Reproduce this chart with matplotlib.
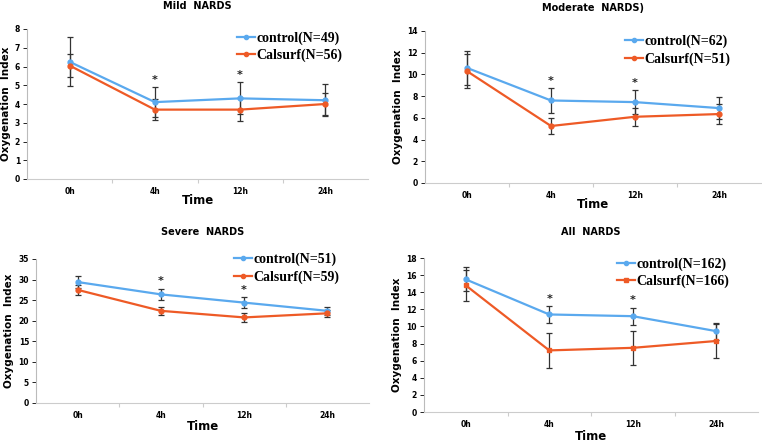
import numpy as np
import matplotlib.pyplot as plt
from matplotlib.lines import Line2D

times = ['0h', '4h', '12h', '24h']

titles = ['Mild  NARDS', 'Moderate  NARDS)', 'Severe  NARDS', 'All  NARDS']
n_control = [49, 62, 51, 162]
n_calsurf = [56, 51, 59, 166]

mild_control = [6.25, 4.1, 4.3, 4.2]
mild_control_err = [1.3, 0.8, 0.85, 0.85]
mild_calsurf = [6.05, 3.7, 3.7, 4.0]
mild_calsurf_err = [0.6, 0.55, 0.6, 0.6]

moderate_control = [10.6, 7.6, 7.45, 6.9]
moderate_control_err = [1.6, 1.15, 1.1, 1.0]
moderate_calsurf = [10.3, 5.25, 6.1, 6.35]
moderate_calsurf_err = [1.55, 0.75, 0.85, 0.9]

severe_control = [29.4, 26.4, 24.4, 22.4]
severe_control_err = [1.5, 1.4, 1.3, 1.0]
severe_calsurf = [27.5, 22.4, 20.8, 21.8]
severe_calsurf_err = [1.3, 1.0, 1.0, 0.9]

all_control = [15.5, 11.4, 11.2, 9.45]
all_control_err = [1.4, 1.0, 1.0, 1.0]
all_calsurf = [14.8, 7.2, 7.5, 8.3]
all_calsurf_err = [1.85, 2.0, 2.0, 2.0]

ymax = [8, 14, 35, 18]
ystep = [1, 2, 5, 2]
star_at = [1, 2]

panels = [
    (mild_control, mild_control_err, mild_calsurf, mild_calsurf_err),
    (moderate_control, moderate_control_err, moderate_calsurf, moderate_calsurf_err),
    (severe_control, severe_control_err, severe_calsurf, severe_calsurf_err),
    (all_control, all_control_err, all_calsurf, all_calsurf_err),
]

# axes boxes in pixels: left, right, top, bottom; then title y, xlabel y
W, H = 762, 442
boxes = [(27, 368, 29, 179, 6, 201),
         (425, 761, 31, 183, 8, 205),
         (36, 369, 259, 403, 232, 426),
         (424, 758, 258, 412, 232, 436)]
leg_anchor = [(0.95, 1.04), (0.935, 1.03), (0.936, 1.10), (0.94, 1.06)]

blue = '#5aa9ee'
orange = '#ee5a26'

fig = plt.figure(figsize=(W / 100, H / 100), dpi=100)

for k, (ctl, ctl_e, cal, cal_e) in enumerate(panels):
    l, r, t, b, ty, xy = boxes[k]
    ax = fig.add_axes([l / W, 1 - b / H, (r - l) / W, (b - t) / H])
    x = np.arange(len(times)) + 0.5
    m2 = 's' if k == 3 else 'o'
    ax.errorbar(x, ctl, yerr=ctl_e, color=blue, lw=1.6, marker='o', ms=3.5,
                ecolor='#333333', elinewidth=0.9, capsize=2.5, capthick=0.9, zorder=3)
    ax.errorbar(x, cal, yerr=cal_e, color=orange, lw=1.6, marker=m2, ms=3.5,
                ecolor='#333333', elinewidth=0.9, capsize=2.5, capthick=0.9, zorder=3)
    for i in star_at:
        ax.text(x[i], ctl[i] + ctl_e[i] + ymax[k] * 0.015, '*', ha='center',
                va='bottom', fontsize=8, fontweight='bold', color='#222222')
    ax.set_xlim(0, 4)
    ax.set_ylim(0, ymax[k])
    ax.set_yticks(np.arange(0, ymax[k] + 0.1, ystep[k]))
    ax.set_xticks([1, 2, 3])
    ax.set_xticklabels([])
    ax.set_xticks(x, minor=True)
    ax.set_xticklabels(times, minor=True)
    ax.tick_params(axis='x', which='minor', length=0, labelsize=5.5, pad=6)
    ax.tick_params(axis='x', which='major', length=3, color='#cccccc')
    ax.tick_params(axis='y', labelsize=5.5, length=3, width=0.6, pad=2)
    for lab in ax.get_xticklabels(minor=True) + ax.get_yticklabels():
        lab.set_fontweight('bold')
    ax.spines['top'].set_visible(False)
    ax.spines['right'].set_visible(False)
    ax.spines['left'].set_color('#bbbbbb')
    ax.spines['bottom'].set_color('#cccccc')
    ax.set_ylabel('Oxygenation  Index', fontsize=7.5, fontweight='bold', labelpad=3)
    fig.text((l + r) / 2 / W, 1 - xy / H, 'Time', ha='center', va='center',
             fontsize=8.5, fontweight='bold')
    fig.text((l + r) / 2 / W, 1 - ty / H, titles[k], ha='center', va='center',
             fontsize=7, fontweight='bold')
    handles = [Line2D([], [], color=blue, lw=1.6, marker='o', ms=3),
               Line2D([], [], color=orange, lw=1.6, marker=m2, ms=3)]
    labels = ['control(N=%d)' % n_control[k], 'Calsurf(N=%d)' % n_calsurf[k]]
    ax.legend(handles, labels, loc='upper right', bbox_to_anchor=leg_anchor[k],
              frameon=False,
              prop={'family': 'Liberation Serif', 'weight': 'bold', 'size': 10},
              handlelength=1.3, handletextpad=0.1, labelspacing=0.3,
              borderaxespad=0.2)

fig.savefig('out.png', dpi=100)
